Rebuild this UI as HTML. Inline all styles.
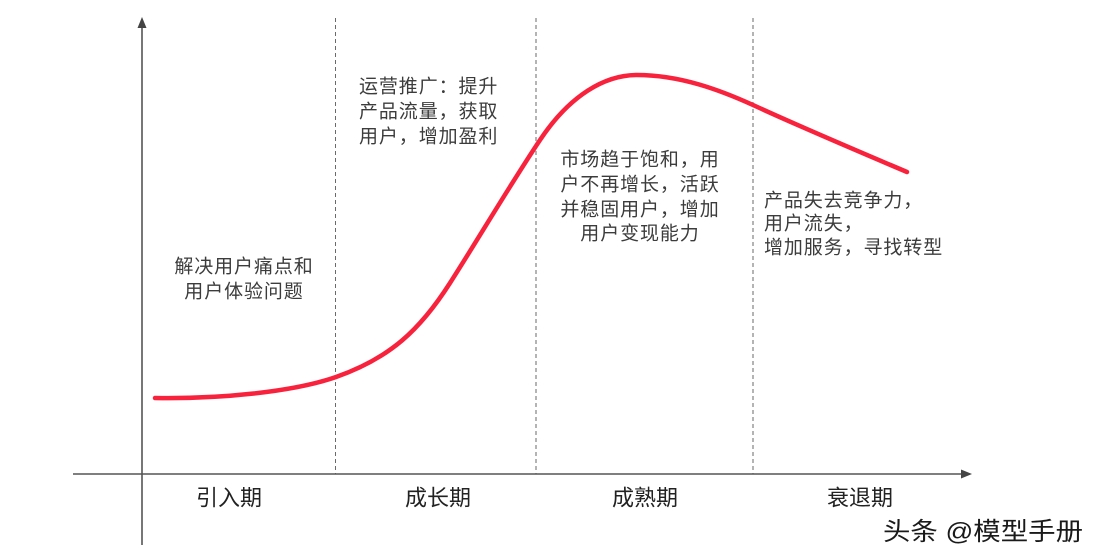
<!DOCTYPE html>
<html>
<head>
<meta charset="utf-8">
<style>
html,body{margin:0;padding:0;background:#fff;}
svg{display:block;}
text{font-family:"Liberation Sans","Noto Sans CJK SC","WenQuanYi Zen Hei",sans-serif;}
</style>
</head>
<body>
<svg width="1100" height="560" viewBox="0 0 1100 560" xmlns="http://www.w3.org/2000/svg">
  <rect width="1100" height="560" fill="#fff"/>
  <!-- dashed separators -->
  <g stroke="#6a6a6a" stroke-width="1" stroke-dasharray="4,3" fill="none">
    <line x1="335.5" y1="18" x2="335.5" y2="474"/>
    <line x1="536" y1="18" x2="536" y2="474"/>
    <line x1="753" y1="18" x2="753" y2="474"/>
  </g>
  <!-- axes -->
  <g stroke="#555" stroke-width="1.6" fill="none">
    <line x1="142" y1="26" x2="142" y2="545"/>
    <line x1="73" y1="474" x2="964" y2="474"/>
  </g>
  <polygon points="142,17 137.5,28 146.5,28" fill="#444"/>
  <polygon points="972,474 961,469.5 961,478.5" fill="#444"/>
  <!-- curve -->
  <path d="M155,398 C220,399 293,392 336,377 C390,358 420,330 450,283 C480,236 510,185 540,140 C570,95 605,75 637,75 C680,75 720,90 753,105 C803,128 860,152 907,172"
        fill="none" stroke="#f8223c" stroke-width="4.5" stroke-linecap="round"/>
  <!-- annotations -->
  <g fill="#3c3c3c" font-size="19" letter-spacing="0.9" dominant-baseline="central">
    <text x="244" y="267" text-anchor="middle">解决用户痛点和</text>
    <text x="244" y="292" text-anchor="middle">用户体验问题</text>

    <text x="359" y="87">运营推广：提升</text>
    <text x="359" y="112">产品流量，获取</text>
    <text x="359" y="137">用户，增加盈利</text>

    <text x="640" y="160" text-anchor="middle">市场趋于饱和，用</text>
    <text x="640" y="185" text-anchor="middle">户不再增长，活跃</text>
    <text x="640" y="210" text-anchor="middle">并稳固用户，增加</text>
    <text x="640" y="234" text-anchor="middle">用户变现能力</text>

    <text x="764" y="201">产品失去竞争力，</text>
    <text x="764" y="224">用户流失，</text>
    <text x="764" y="248">增加服务，寻找转型</text>
  </g>
  <!-- period labels -->
  <g fill="#222" font-size="22" text-anchor="middle" dominant-baseline="central">
    <text x="229" y="498">引入期</text>
    <text x="438" y="498">成长期</text>
    <text x="645" y="498">成熟期</text>
    <text x="860" y="498">衰退期</text>
  </g>
  <!-- watermark -->
  <text x="883" y="532" font-size="25" fill="#1a1a1a" dominant-baseline="central" textLength="200" lengthAdjust="spacingAndGlyphs">头条 @模型手册</text>
</svg>
</body>
</html>
